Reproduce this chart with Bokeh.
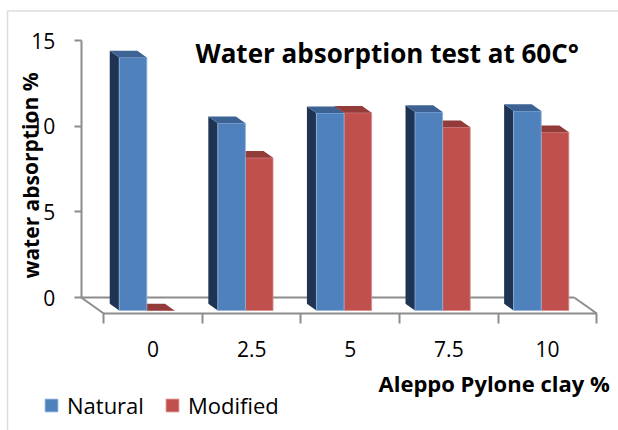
from bokeh.plotting import figure
from bokeh.models import (Range1d, LinearAxis, FixedTicker, Label, Legend,
                          LegendItem, ColumnDataSource, BoxAnnotation)
from bokeh.embed import file_html
from bokeh.resources import INLINE

# ---------------- data ----------------
categories = ["0", "2.5", "5", "7.5", "10"]
natural = [14.77, 10.93, 11.52, 11.58, 11.64]
modified = [0.0, 8.91, 11.54, 10.70, 10.41]
y_ticks = [0, 5, 10, 15]
title_text = "Water absorption test at 60C\u00b0"
y_title = "water absorption %"
x_title = "Aleppo Pylone clay %"

# ---------------- geometry / style ----------------
W, H = 618, 430
PX_CAT, PX_VAL = 98.6, 17.13           # pixels per category / per value unit
WALL_X, WALL_Y = 80.7, 297.0           # pixel position of back-wall origin
DEPTH_DX, DEPTH_DY = 0.229, 0.934      # full floor depth in data units
T_BACK, T_FRONT = 0.39, 0.81           # bar depth position (0 = back wall, 1 = front)
BAR_W = 0.28
PAIR_SHIFT = -0.02
FONT = "Open Sans"
GREY = "#8c8c8c"

x0 = -0.5 - WALL_X / PX_CAT
x1 = x0 + W / PX_CAT
y0 = -(H - WALL_Y) / PX_VAL
y1 = y0 + H / PX_VAL

p = figure(width=W, height=H, x_range=Range1d(x0, x1), y_range=Range1d(y0, y1),
           output_backend="svg", toolbar_location=None,
           x_axis_location=None, y_axis_location=None,
           min_border=0)
p.extra_x_ranges = {"front": Range1d(x0 - DEPTH_DX, x1 - DEPTH_DX)}
p.xgrid.visible = False
p.ygrid.visible = False
p.outline_line_color = None
p.background_fill_color = "white"
p.border_fill_color = "white"

n = len(categories)

# floor / back wall edges
floor_src = ColumnDataSource(dict(
    xs=[[-0.5, n - 0.5], [-0.5, -0.5 + DEPTH_DX], [n - 0.5, n - 0.5 + DEPTH_DX]],
    ys=[[0, 0], [0, -DEPTH_DY], [0, -DEPTH_DY]]))
p.multi_line("xs", "ys", source=floor_src, line_color=GREY, line_width=2)


def bar_faces(values, offset):
    fx, fy = T_FRONT * DEPTH_DX, -T_FRONT * DEPTH_DY
    bx, by = T_BACK * DEPTH_DX, -T_BACK * DEPTH_DY
    front, top, side = dict(xs=[], ys=[]), dict(xs=[], ys=[]), dict(xs=[], ys=[])
    for i, v in enumerate(values):
        xl = i + PAIR_SHIFT + offset
        xr = xl + BAR_W
        front["xs"].append([xl + fx, xr + fx, xr + fx, xl + fx])
        front["ys"].append([fy, fy, fy + v, fy + v])
        top["xs"].append([xl + fx, xr + fx, xr + bx, xl + bx])
        top["ys"].append([fy + v, fy + v, by + v, by + v])
        side["xs"].append([xl + bx, xl + fx, xl + fx, xl + bx])
        side["ys"].append([by, fy, fy + v, by + v])
    return front, top, side


mf, mt, ms = bar_faces(modified, 0.0)
nf, nt, ns = bar_faces(natural, -BAR_W)

p.patches("xs", "ys", source=ColumnDataSource(ms), fill_color="#6b2523", line_color=None)
r_mod = p.patches("xs", "ys", source=ColumnDataSource(mf), fill_color="#C0504D",
                  line_color="#d98a88", line_width=0.8)
p.patches("xs", "ys", source=ColumnDataSource(mt), fill_color="#923B39", line_color=None)

p.patches("xs", "ys", source=ColumnDataSource(ns), fill_color="#1F3452", line_color=None)
r_nat = p.patches("xs", "ys", source=ColumnDataSource(nf), fill_color="#4F81BD",
                  line_color="#8fb2dc", line_width=0.8)
p.patches("xs", "ys", source=ColumnDataSource(nt), fill_color="#3C6394", line_color=None)

# y axis on the back wall
yaxis = LinearAxis(ticker=FixedTicker(ticks=y_ticks, minor_ticks=[]), bounds=(0, 15),
                   fixed_location=-0.5)
yaxis.axis_line_color = GREY
yaxis.axis_line_width = 2
yaxis.major_tick_line_color = GREY
yaxis.major_tick_line_width = 2
yaxis.major_tick_out = 7
yaxis.major_tick_in = 0
yaxis.minor_tick_line_color = None
yaxis.major_label_standoff = 19
yaxis.major_label_text_font = FONT
yaxis.major_label_text_font_size = "21px"
yaxis.major_label_text_color = "black"
p.add_layout(yaxis, "left")

# x axis on the front edge of the floor
xaxis = LinearAxis(x_range_name="front",
                   ticker=FixedTicker(ticks=list(range(n)),
                                      minor_ticks=[k - 0.5 for k in range(n + 1)]),
                   bounds=(-0.5, n - 0.5), fixed_location=-DEPTH_DY,
                   major_label_overrides={i: c for i, c in enumerate(categories)})
xaxis.axis_line_color = GREY
xaxis.axis_line_width = 2
xaxis.major_tick_line_color = None
xaxis.major_tick_out = 10
xaxis.major_tick_in = 0
xaxis.minor_tick_line_color = GREY
xaxis.minor_tick_line_width = 2
xaxis.minor_tick_out = 10
xaxis.minor_tick_in = 0
xaxis.major_label_standoff = 18
xaxis.major_label_text_font = FONT
xaxis.major_label_text_font_size = "21px"
xaxis.major_label_text_color = "black"
p.add_layout(xaxis, "below")

# texts
p.add_layout(Label(x=195, y=378, x_units="screen", y_units="screen", text=title_text,
                   text_font=FONT, text_font_size="26px", text_font_style="bold",
                   text_color="black", text_baseline="alphabetic"))
p.add_layout(Label(x=30, y=255, x_units="screen", y_units="screen", text=y_title,
                   angle=1.5708, text_align="center", text_baseline="middle",
                   text_font=FONT, text_font_size="21px", text_font_style="bold",
                   text_color="black"))
p.add_layout(Label(x=378, y=48, x_units="screen", y_units="screen", text=x_title,
                   text_font=FONT, text_font_size="22px", text_font_style="bold",
                   text_color="black", text_baseline="alphabetic"))

legend = Legend(items=[LegendItem(label="Natural", renderers=[r_nat]),
                       LegendItem(label="Modified", renderers=[r_mod])],
                location=(43, 10), orientation="horizontal",
                glyph_width=16, glyph_height=16, label_standoff=8, spacing=20,
                padding=0, margin=0, border_line_alpha=0, background_fill_alpha=0,
                label_text_font=FONT, label_text_font_size="22px",
                label_text_color="black")
p.add_layout(legend, "center")

# outer chart border (top and left visible)
p.add_layout(BoxAnnotation(left=7, right=2000, top=419.5, bottom=-2000,
                           left_units="screen", right_units="screen",
                           top_units="screen", bottom_units="screen",
                           fill_alpha=0, line_color="#8f8f8f", line_width=1.5))

open("out.html", "w").write(file_html(p, INLINE))
